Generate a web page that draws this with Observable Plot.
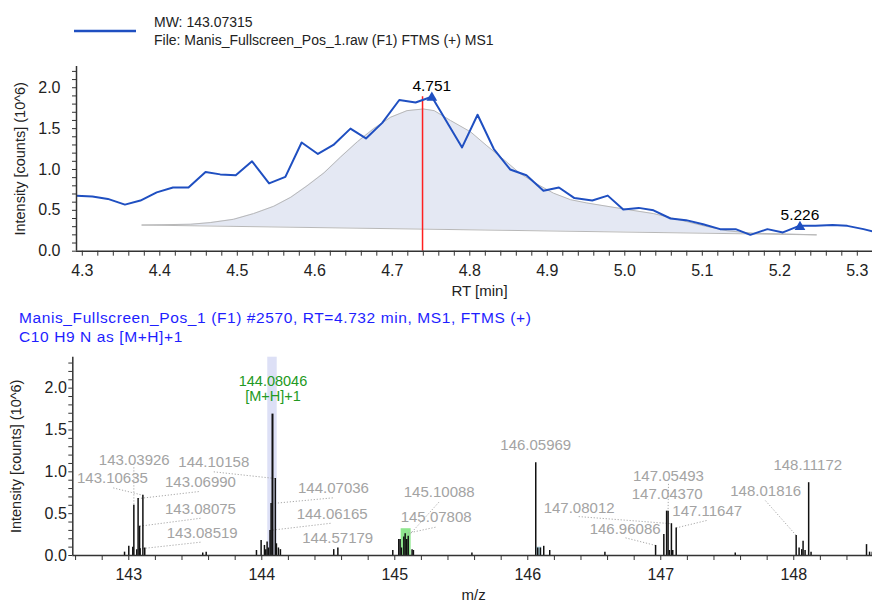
<!DOCTYPE html>
<html>
<head>
<meta charset="utf-8">
<script src="https://cdn.jsdelivr.net/npm/d3@7"></script>
<script src="https://cdn.jsdelivr.net/npm/@observablehq/plot@0.6"></script>
<style>
  body { margin: 0; background: #fff; }
  #root { position: relative; width: 872px; height: 603px; font-family: "Liberation Sans", Arial, sans-serif; overflow: hidden; }
  .abs { position: absolute; white-space: nowrap; }
</style>
</head>
<body>
<div id="root">
  <svg class="abs" style="left:0;top:0" width="160" height="50"><line x1="74" y1="31" x2="136" y2="31" stroke="#1f4fc1" stroke-width="2.5"/></svg>
  <div class="abs" style="left:154px;top:14.4px;font-size:14px;line-height:16px;color:#222">MW: 143.07315</div>
  <div class="abs" style="left:154px;top:32.4px;font-size:14px;line-height:16px;color:#222">File: Manis_Fullscreen_Pos_1.raw (F1) FTMS (+) MS1</div>
  <div id="chart1" class="abs" style="left:0;top:55px"></div>
  <div class="abs" style="left:19px;top:309.2px;font-size:15.5px;line-height:18px;letter-spacing:0.6px;color:#1e1eff">Manis_Fullscreen_Pos_1 (F1) #2570, RT=4.732 min, MS1, FTMS (+)</div>
  <div class="abs" style="left:19px;top:327.8px;font-size:15.5px;line-height:18px;letter-spacing:0.6px;color:#1e1eff">C10 H9 N as [M+H]+1</div>
  <div id="chart2" class="abs" style="left:0;top:350px"></div>
</div>
<script>
// ---------- Chromatogram (top) ----------
const rtTime = [4.2925, 4.313, 4.333, 4.355, 4.375, 4.396, 4.417, 4.437, 4.459, 4.478, 4.498, 4.519, 4.541, 4.562, 4.583, 4.604, 4.624, 4.646, 4.666, 4.687, 4.709, 4.730, 4.751, 4.790, 4.810, 4.831, 4.852, 4.873, 4.895, 4.915, 4.935, 4.958, 4.978, 4.998, 5.018, 5.037, 5.059, 5.079, 5.101, 5.123, 5.143, 5.162, 5.184, 5.204, 5.225, 5.246, 5.268, 5.287, 5.308, 5.329];
const rtIntensity = [0.68, 0.67, 0.64, 0.57, 0.62, 0.72, 0.78, 0.78, 0.97, 0.94, 0.93, 1.10, 0.83, 0.91, 1.33, 1.19, 1.30, 1.50, 1.38, 1.57, 1.85, 1.82, 1.89, 1.27, 1.67, 1.25, 1.00, 0.93, 0.74, 0.78, 0.65, 0.62, 0.68, 0.51, 0.53, 0.50, 0.40, 0.38, 0.33, 0.27, 0.27, 0.20, 0.27, 0.23, 0.31, 0.31, 0.32, 0.31, 0.27, 0.22];

const fitTime = [4.377, 4.440, 4.465, 4.495, 4.521, 4.547, 4.569, 4.590, 4.612, 4.633, 4.655, 4.676, 4.698, 4.719, 4.740, 4.754, 4.775, 4.801, 4.822, 4.844, 4.865, 4.887, 4.908, 4.930, 4.951, 4.977, 5.003, 5.037, 5.072, 5.102, 5.132, 5.166, 5.209, 5.247];
const fitIntensity = [0.32, 0.33, 0.35, 0.39, 0.46, 0.55, 0.66, 0.80, 0.96, 1.15, 1.34, 1.50, 1.64, 1.72, 1.74, 1.72, 1.60, 1.46, 1.29, 1.12, 0.95, 0.82, 0.71, 0.63, 0.59, 0.55, 0.51, 0.46, 0.38, 0.31, 0.25, 0.22, 0.21, 0.20];
const baseTime = [4.377, 5.247];
const baseIntensity = [0.32, 0.20];

const apexTime = [4.751, 5.226];
const apexIntensity = [1.89, 0.31];
const apexLabel = ["4.751", "5.226"];
const scanMarkerTime = [4.739];
const scanMarkerTop = [1.89];

const rtTicks = [4.3, 4.4, 4.5, 4.6, 4.7, 4.8, 4.9, 5.0, 5.1, 5.2, 5.3];
const rtTickLabels = ["4.3", "4.4", "4.5", "4.6", "4.7", "4.8", "4.9", "5.0", "5.1", "5.2", "5.3"];
const intTicks = [0, 0.5, 1.0, 1.5, 2.0];
const intTickLabels = ["0.0", "0.5", "1.0", "1.5", "2.0"];

// ---------- Spectrum (bottom) ----------
const mzValues = [142.968, 143.000, 143.030, 143.038, 143.060, 143.070, 143.081, 143.085, 143.106, 143.120, 143.556, 143.582,
  143.960, 143.995, 144.020, 144.030, 144.040, 144.050, 144.062, 144.070, 144.0805, 144.1016, 144.110, 144.125, 144.140,
  144.541, 144.572, 144.985, 145.030, 145.040, 145.050, 145.068, 145.078, 145.090, 145.101, 145.130, 145.140, 145.580,
  146.060, 146.075, 146.095, 146.120, 146.165, 146.580, 146.961, 147.023, 147.044, 147.055, 147.065, 147.080, 147.090, 147.116, 147.560,
  148.018, 148.040, 148.060, 148.070, 148.085, 148.112, 148.130, 148.547, 148.570, 148.590];
const mzIntensity = [0.04, 0.11, 0.10, 0.60, 0.07, 0.68, 0.35, 0.08, 0.72, 0.09, 0.03, 0.04,
  0.06, 0.18, 0.12, 0.07, 0.16, 0.09, 0.30, 0.62, 1.69, 0.92, 0.14, 0.09, 0.07,
  0.07, 0.09, 0.06, 0.19, 0.19, 0.09, 0.22, 0.26, 0.19, 0.23, 0.07, 0.06, 0.03,
  1.11, 0.09, 0.09, 0.11, 0.06, 0.04, 0.12, 0.25, 0.53, 0.53, 0.06, 0.38, 0.06, 0.33, 0.03,
  0.24, 0.09, 0.07, 0.17, 0.06, 0.87, 0.04, 0.13, 0.04, 0.04];

const highlightMzStart = [144.045, 145.048, 146.068];
const highlightMzEnd = [144.116, 145.123, 146.105];
const highlightTop = [2.37, 0.32, 0.10];
const highlightFill = ["#dde0f6", "#8ee68e", "#b3d6e3"];

const peakLabel = ["143.03926", "143.10635", "143.06990", "143.08075", "143.08519", "144.10158", "144.07036", "144.06165", "144.57179",
  "145.10088", "145.07808", "146.05969", "147.08012", "146.96086", "147.05493", "147.04370", "147.11647", "148.01816", "148.11172"];
const peakLabelMz = [143.041, 142.877, 143.539, 143.539, 143.552, 143.639, 144.539, 144.529, 144.571,
  145.334, 145.311, 146.060, 146.386, 146.732, 147.058, 147.048, 147.349, 147.789, 148.105];
const peakLabelInt = [1.134, 0.922, 0.875, 0.557, 0.266, 1.113, 0.803, 0.498, 0.206,
  0.755, 0.457, 1.313, 0.569, 0.319, 0.946, 0.728, 0.529, 0.767, 1.074];
const leaderFromMz = [143.038, 142.883, 143.526, 143.539, 143.539, 143.639, 144.534, 144.517, null,
  145.331, 145.306, null, 146.383, 146.735, 147.058, null, 147.344, 147.787, null];
const leaderFromInt = [1.054, 0.808, 0.764, 0.445, 0.159, 1.000, 0.689, 0.385, null,
  0.636, 0.338, null, 0.465, 0.211, 0.856, null, 0.418, 0.656, null];
const leaderToMz = [143.038, 143.106, 143.070, 143.081, 143.085, 144.1016, 144.070, 144.062, null,
  145.101, 145.078, null, 147.080, 146.961, 147.055, null, 147.116, 148.018, null];
const leaderToInt = [0.60, 0.72, 0.68, 0.35, 0.08, 0.92, 0.62, 0.30, null,
  0.23, 0.26, null, 0.38, 0.12, 0.53, null, 0.33, 0.24, null];

const basePeakText = ["144.08046\n[M+H]+1"];
const basePeakMz = [144.084];
const basePeakInt = [1.998];

const mzTicks = [143, 144, 145, 146, 147, 148];
const mzTickLabels = ["143", "144", "145", "146", "147", "148"];

// ---------- build tables ----------
const chrom = rtTime.map((t, i) => ({t, v: rtIntensity[i]}));
const fit = fitTime.map((t, i) => ({t, v: fitIntensity[i]}));
const baseScale = d3.scaleLinear(baseTime, baseIntensity);
const base = baseTime.map((t, i) => ({t, v: baseIntensity[i]}));
const apex = apexTime.map((t, i) => ({t, v: apexIntensity[i], label: apexLabel[i]}));
const marker = scanMarkerTime.map((t, i) => ({t, top: scanMarkerTop[i]}));
const spec = mzValues.map((m, i) => ({m, v: mzIntensity[i]}));
const hl = highlightMzStart.map((s, i) => ({x1: s, x2: highlightMzEnd[i], top: highlightTop[i], fill: highlightFill[i]}));
const labels = peakLabel.map((s, i) => ({s, m: peakLabelMz[i], v: peakLabelInt[i]}));
const leaders = peakLabel.map((s, i) => ({x1: leaderFromMz[i], y1: leaderFromInt[i], x2: leaderToMz[i], y2: leaderToInt[i]})).filter(d => d.x1 != null);
const bpl = basePeakText.map((s, i) => ({s, m: basePeakMz[i], v: basePeakInt[i]}));

const axisColor = "#333";
const font = "Liberation Sans, Arial, sans-serif";

// ---------- top chart ----------
const rtDomain = [4.2925, 5.3196];
const c1 = Plot.plot({
  width: 872, height: 245,
  marginTop: 11, marginBottom: 49.3, marginLeft: 76, marginRight: 0,
  x: {domain: rtDomain},
  y: {domain: [0, 2.26]},
  style: {fontFamily: font, fontSize: "16px", color: "#222", background: "transparent", overflow: "visible"},
  marks: [
    Plot.areaY(fit, {x: "t", y1: d => baseScale(d.t), y2: "v", fill: "#e4e8f3", curve: "linear"}),
    Plot.line(fit, {x: "t", y: "v", stroke: "#b8b8b8", strokeWidth: 1}),
    Plot.line(base, {x: "t", y: "v", stroke: "#b8b8b8", strokeWidth: 1}),
    Plot.ruleX(marker, {x: "t", y1: 0, y2: "top", stroke: "#ff1f1f", strokeWidth: 1.5}),
    Plot.line(chrom, {x: "t", y: "v", stroke: "#1f4fc1", strokeWidth: 2, clip: true}),
    Plot.dot(apex, {x: "t", y: "v", symbol: "triangle", r: 4, fill: "#1f4fc1", dy: 1}),
    Plot.text(apex, {x: "t", y: "v", text: "label", dy: -11, fontSize: 15.5, fill: "#000"}),
    Plot.axisY({ticks: d3.range(0, 2.25, 0.1), tickSize: 4, tickFormat: () => "", label: null, stroke: axisColor}),
    Plot.axisY({ticks: intTicks, tickSize: 0, tickPadding: 16, tickFormat: (d, i) => intTickLabels[i], label: null, fontSize: 16}),
    Plot.axisX({ticks: d3.range(4.30, 5.32, 0.02), tickSize: 5, tickFormat: () => "", label: null, stroke: axisColor}),
    Plot.axisX({ticks: rtTicks, tickSize: 0, tickPadding: 13.5, tickFormat: (d, i) => rtTickLabels[i], label: null, fontSize: 16}),
    Plot.ruleY([0], {stroke: axisColor, strokeWidth: 1.5}),
    Plot.ruleX([rtDomain[0]], {stroke: axisColor, strokeWidth: 1.5}),
    Plot.text(["Intensity [counts] (10^6)"], {frameAnchor: "left", textAnchor: "middle", dx: -56, rotate: -90, fontSize: 14.5, fill: "#222"}),
    Plot.text(["RT [min]"], {frameAnchor: "bottom", dy: 45, dx: 5, fontSize: 15, fill: "#222"})
  ]
});
document.getElementById("chart1").append(c1);

// ---------- bottom chart ----------
const mzDomain = [142.579, 148.592];
const c2 = Plot.plot({
  width: 872, height: 253,
  marginTop: 6.7, marginBottom: 48, marginLeft: 72.3, marginRight: 0,
  x: {domain: mzDomain},
  y: {domain: [0, 2.37]},
  style: {fontFamily: font, fontSize: "16px", color: "#222", background: "transparent", overflow: "visible"},
  marks: [
    Plot.rect(hl, {x1: "x1", x2: "x2", y1: 0, y2: "top", fill: "fill"}),
    Plot.link(leaders, {x1: "x1", y1: "y1", x2: "x2", y2: "y2", stroke: "#a8a8a8", strokeWidth: 1, strokeDasharray: "1.2,1.8"}),
    Plot.ruleX(spec, {x: "m", y1: 0, y2: "v", stroke: "#111", strokeWidth: d => d.v > 1.5 ? 2 : 1.5}),
    Plot.text(labels, {x: "m", y: "v", text: "s", fontSize: 15, fill: "#a3a3a3"}),
    Plot.text(bpl, {x: "m", y: "v", text: "s", fontSize: 14.5, lineHeight: 1.05, fill: "#229922"}),
    Plot.axisY({ticks: d3.range(0, 2.36, 0.1), tickSize: 4, tickFormat: () => "", label: null, stroke: axisColor}),
    Plot.axisY({ticks: intTicks, tickSize: 0, tickPadding: 6, tickFormat: (d, i) => intTickLabels[i], label: null, fontSize: 16}),
    Plot.axisX({ticks: d3.range(142.6, 148.6, 0.2), tickSize: 5, tickFormat: () => "", label: null, stroke: axisColor}),
    Plot.axisX({ticks: mzTicks, tickSize: 0, tickPadding: 13.5, tickFormat: (d, i) => mzTickLabels[i], label: null, fontSize: 16}),
    Plot.ruleY([0], {stroke: axisColor, strokeWidth: 1.5}),
    Plot.ruleX([mzDomain[0]], {stroke: axisColor, strokeWidth: 1.5}),
    Plot.text(["Intensity [counts] (10^6)"], {frameAnchor: "left", textAnchor: "middle", dx: -56.8, rotate: -90, fontSize: 14.5, fill: "#222"}),
    Plot.text(["m/z"], {frameAnchor: "bottom", dy: 44.5, dx: 1, fontSize: 15, fill: "#222"})
  ]
});
document.getElementById("chart2").append(c2);
</script>
</body>
</html>
